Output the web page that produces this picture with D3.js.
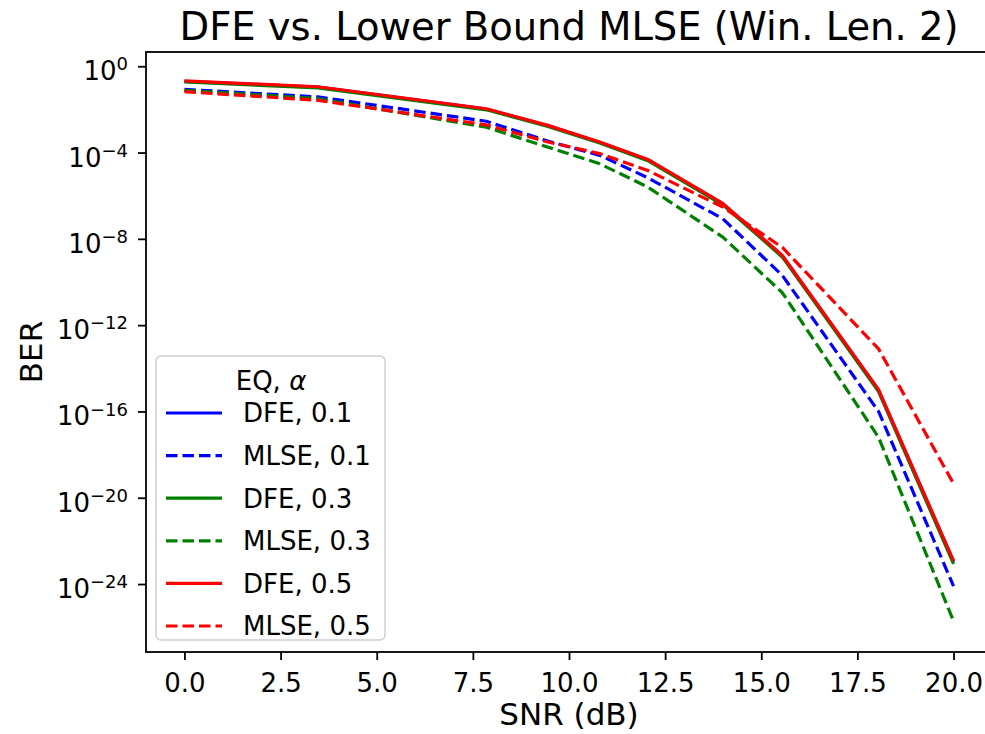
<!DOCTYPE html>
<html>
<head>
<meta charset="utf-8">
<script src="https://cdn.jsdelivr.net/npm/d3@7"></script>
<style>
  html, body { margin: 0; padding: 0; background: #fff; }
  svg { display: block; font-family: "DejaVu Sans", sans-serif; }
</style>
</head>
<body>
<svg id="chart" width="985" height="734"></svg>
<script>
// SNR grid (dB)
const snr = [0, 3.47, 7.85, 9.45, 10.8, 12.05, 14.0, 15.55, 18.05, 20];
// log10(BER)
const dfe01  = [-0.70, -0.97, -1.99, -2.76, -3.53, -4.34, -6.38, -8.80, -15.02, -22.97];
const mlse01 = [-1.07, -1.42, -2.55, -3.47, -4.13, -5.17, -7.07, -9.70, -16.00, -24.10];
const dfe03  = [-0.73, -1.00, -2.02, -2.79, -3.56, -4.38, -6.42, -8.85, -15.08, -23.07];
const mlse03 = [-1.12, -1.50, -2.83, -3.75, -4.52, -5.60, -7.92, -10.50, -17.20, -25.72];
const dfe05  = [-0.68, -0.95, -1.97, -2.74, -3.51, -4.32, -6.36, -8.77, -14.99, -22.93];
const mlse05 = [-1.18, -1.58, -2.72, -3.51, -4.05, -4.83, -6.53, -8.40, -13.10, -19.35];

const seriesNames = ["DFE, 0.1", "MLSE, 0.1", "DFE, 0.3", "MLSE, 0.3", "DFE, 0.5", "MLSE, 0.5"];
const seriesData = [dfe01, mlse01, dfe03, mlse03, dfe05, mlse05];
const seriesColors = ["#0000ff", "#0000ff", "#008000", "#008000", "#ff0000", "#ff0000"];
const seriesDashed = [false, true, false, true, false, true];

const xTicks = [0, 2.5, 5, 7.5, 10, 12.5, 15, 17.5, 20];
const yTickExps = [0, -4, -8, -12, -16, -20, -24];

const titleText = "DFE vs. Lower Bound MLSE (Win. Len. 2)";
const xLabel = "SNR (dB)";
const yLabel = "BER";
const legendTitle = "EQ, ";

const svg = d3.select("#chart");
const L = 146, R = 992, T = 52, B = 652;

const x = d3.scaleLinear().domain([-1, 21]).range([L, R]);
const y = d3.scaleLog().domain([Math.pow(10, -27.15), Math.pow(10, 0.66)]).range([B, T]);

svg.append("defs").append("clipPath").attr("id", "clip")
  .append("rect").attr("x", L).attr("y", T).attr("width", R - L).attr("height", B - T);

const line = d3.line().x(d => x(d[0])).y(d => y(Math.pow(10, d[1])));

const plot = svg.append("g").attr("clip-path", "url(#clip)");
seriesData.forEach((vals, i) => {
  plot.append("path")
    .datum(snr.map((s, j) => [s, vals[j]]))
    .attr("d", line)
    .attr("fill", "none")
    .attr("stroke", seriesColors[i])
    .attr("stroke-width", 3.2)
    .attr("stroke-linejoin", "round")
    .attr("stroke-dasharray", seriesDashed[i] ? "11.5,5" : null);
});

// X axis
const xAxis = d3.axisBottom(x).tickValues(xTicks).tickFormat(d3.format(".1f")).tickSize(8).tickPadding(14);
const gx = svg.append("g").attr("transform", `translate(0,${B})`).call(xAxis);
gx.select(".domain").remove();
gx.selectAll(".tick line").attr("stroke", "#000").attr("stroke-width", 1.8);
gx.selectAll(".tick text").attr("font-size", 26).attr("fill", "#000").attr("font-family", "DejaVu Sans");

// Y axis
const yAxis = d3.axisLeft(y).tickValues(yTickExps.map(e => Math.pow(10, e))).tickFormat("").tickSize(8);
const gy = svg.append("g").attr("transform", `translate(${L},0)`).call(yAxis);
gy.select(".domain").remove();
gy.selectAll(".tick line").attr("stroke", "#000").attr("stroke-width", 1.8);
gy.selectAll(".tick").each(function(d, i) {
  const t = d3.select(this).append("text")
    .attr("x", -18).attr("dy", "0.52em")
    .attr("text-anchor", "end").attr("fill", "#000")
    .attr("font-size", 26).attr("font-family", "DejaVu Sans");
  t.append("tspan").text("10");
  const e = yTickExps[i];
  t.append("tspan").attr("dy", "-0.55em").attr("font-size", 18)
    .text(e === 0 ? "0" : "\u2212" + Math.abs(e));
});

// Spines
svg.append("rect").attr("x", L).attr("y", T).attr("width", R - L).attr("height", B - T)
  .attr("fill", "none").attr("stroke", "#000").attr("stroke-width", 1.8);

// Title & labels
svg.append("text").attr("x", (L + R) / 2).attr("y", 40).attr("text-anchor", "middle")
  .attr("font-size", 38.5).attr("fill", "#000").text(titleText);
svg.append("text").attr("x", (L + R) / 2).attr("y", 725).attr("text-anchor", "middle")
  .attr("font-size", 31).attr("fill", "#000").text(xLabel);
svg.append("text").attr("transform", `translate(42,${(T + B) / 2}) rotate(-90)`).attr("text-anchor", "middle")
  .attr("font-size", 31).attr("fill", "#000").text(yLabel);

// Legend
const lg = svg.append("g");
lg.append("rect").attr("x", 156).attr("y", 356).attr("width", 229).attr("height", 284)
  .attr("rx", 5).attr("fill", "#fff").attr("fill-opacity", 0.8)
  .attr("stroke", "#d0d0d0").attr("stroke-width", 1.5);
const lt = lg.append("text").attr("x", 271).attr("y", 390).attr("text-anchor", "middle")
  .attr("font-size", 26).attr("fill", "#000");
lt.append("tspan").text(legendTitle);
lt.append("tspan").attr("font-style", "italic").text("\u03b1");
seriesNames.forEach((name, i) => {
  const yy = 413 + i * 42.6;
  lg.append("line").attr("x1", 166).attr("x2", 222).attr("y1", yy).attr("y2", yy)
    .attr("stroke", seriesColors[i]).attr("stroke-width", 3.2)
    .attr("stroke-dasharray", seriesDashed[i] ? "11.5,5" : null);
  lg.append("text").attr("x", 243).attr("y", yy).attr("dy", "0.36em")
    .attr("font-size", 26).attr("fill", "#000").text(name);
});
</script>
</body>
</html>
